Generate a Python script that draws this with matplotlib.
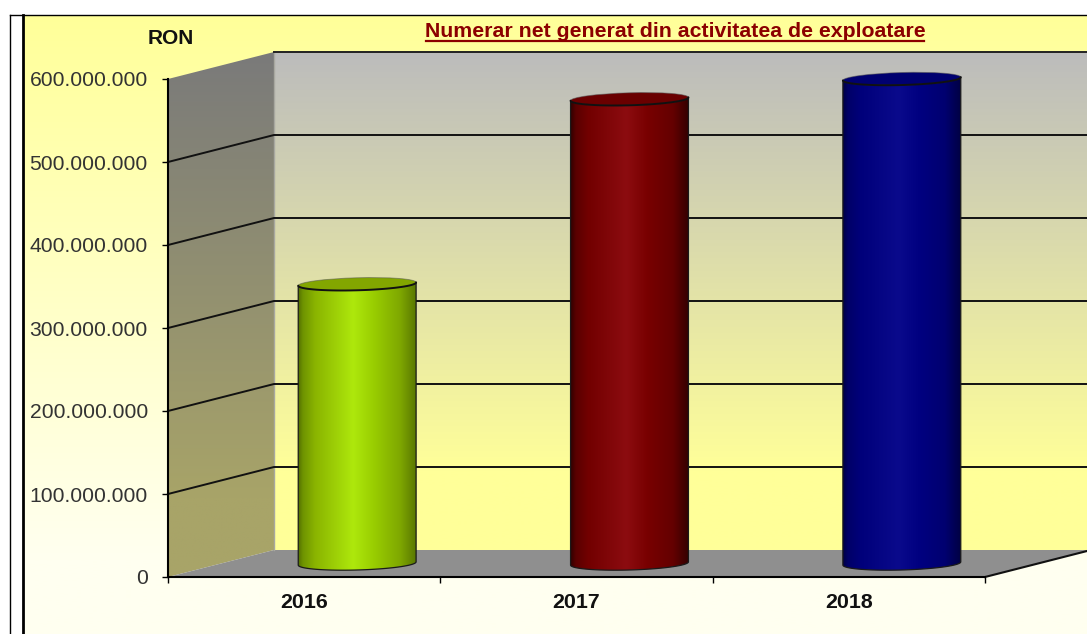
import numpy as np
from matplotlib import pyplot as plt
from matplotlib.colors import LinearSegmentedColormap
from matplotlib.patches import Ellipse, Polygon
from matplotlib.path import Path
from matplotlib.transforms import IdentityTransform

plt.rcParams['font.family'] = ['Liberation Sans', 'DejaVu Sans']

years = ['2016', '2017', '2018']
values = [336700000, 559600000, 584000000]
y_ticks = [0, 100000000, 200000000, 300000000, 400000000, 500000000, 600000000]
y_labels = ['0', '100.000.000', '200.000.000', '300.000.000', '400.000.000', '500.000.000', '600.000.000']
title = 'Numerar net generat din activitatea de exploatare'

W, H = 1087, 634
# depth of the fake 3d box, pixels
DX, DY = 106, 27
L, R, B, T = 168, 985, 577, 79

stops = [0, 0.05, 0.15, 0.47, 0.65, 0.86, 1]
shades = [
    ['#4e6a00', '#6f9400', '#8ab400', '#aee80c', '#98cc00', '#7fa800', '#587600'],
    ['#300000', '#5a0000', '#720000', '#8c0c10', '#780000', '#640000', '#300000'],
    ['#000040', '#000068', '#00007a', '#0a0a8c', '#000080', '#000070', '#000040'],
]
tops = ['#83a600', '#6a0000', '#000070']

fig = plt.figure(figsize=(W / 100, H / 100), dpi=100)

# page background and the walls, in pixel coordinates
bg = fig.add_axes([0, 0, 1, 1])
bg.axis('off')


def vgrad(c1, c2, stop, x0, x1, y0, y1, z, clip=None):
    cm = LinearSegmentedColormap.from_list('g', [(0, c1), (stop, c2), (1, c2)])
    im = bg.imshow(np.linspace(0, 1, 256)[:, None], cmap=cm, aspect='auto', zorder=z,
                   extent=(x0, x1, y1, y0), interpolation='bilinear')
    if clip is not None:
        im.set_clip_path(Polygon(clip, transform=bg.transData, closed=True))
    return im


bg.fill_between([0, W], 0, H, color='white', lw=0, zorder=0)
vgrad('#ffff99', '#fffff0', 0.88, 23, W, 15, H, 0.1)
vgrad('#bcbcbc', '#ffff99', 0.84, L + DX, W, T - DY, B - DY, 0.2)
side = [(L, T), (L + DX, T - DY), (L + DX, B - DY), (L, B)]
vgrad('#7a7a7a', '#a8a468', 0.85, L, L + DX, T - DY, B, 0.3, clip=side)
bg.add_patch(Polygon([(L, B), (R, B), (R + DX, B - DY), (L + DX, B - DY)], fc='#8f8f8f', ec='none', zorder=1))
bg.plot([L + DX, L + DX], [T - DY, B - DY], color='#a8a8a0', lw=1, zorder=1)
bg.plot([10, 10], [15, H], color='black', lw=1, zorder=2)
bg.plot([23, 23], [15, H], color='black', lw=2, zorder=2)
bg.plot([10, W], [15, 15], color='black', lw=1, zorder=2)
bg.set_xlim(0, W)
bg.set_ylim(H, 0)

ax = fig.add_axes([L / W, 1 - B / H, (R - L) / W, (B - T) / H])
ax.patch.set_alpha(0)
ax.set_xlim(0, 3)
ax.set_ylim(0, 600000000)
for s in ['top', 'right']:
    ax.spines[s].set_visible(False)
ax.spines['left'].set_linewidth(1.5)
ax.spines['bottom'].set_linewidth(1.5)
ax.set_xticks([0, 1, 2, 3])
ax.set_xticklabels([])
ax.set_xticks([0.5, 1.5, 2.5], minor=True)
ax.set_xticklabels(years, minor=True, fontsize=15.4, fontweight='bold', color='#111111')
ax.tick_params(axis='x', which='minor', length=0, pad=11.5)
ax.tick_params(axis='x', which='major', length=4.5, width=1)
ax.set_yticks(y_ticks)
ax.set_yticklabels(y_labels, fontsize=15.2, color='#333333')
ax.tick_params(axis='y', length=4, width=1, pad=10.5)

# gridlines on the back and side walls
for v in y_ticks[1:]:
    ypx = H - ax.transData.transform((0, v))[1]
    if v < 600000000:
        bg.plot([L, L + DX, W], [ypx, ypx - DY, ypx - DY], color='#111111', lw=1.4, zorder=3)
    else:
        bg.plot([L + DX, W], [ypx - DY, ypx - DY], color='#222222', lw=1.4, zorder=3)
bg.plot([R, W], [B, B - (W - R) * DY / DX], color='#111111', lw=1.5, zorder=3)

# cylinders sit half way into the box
to_px = ax.transData.transform
bar_w = 0.433
ell_h = 12.5
tilt = 1.6
a = np.radians(tilt)
half = to_px((bar_w / 2, 0))[0] - to_px((0, 0))[0]


def arc(cx, cy, hh, t):
    ex = half * np.cos(t)
    ey = hh * np.sin(t)
    return np.c_[cx + ex * np.cos(a) - ey * np.sin(a), cy + ex * np.sin(a) + ey * np.cos(a)]


front = np.linspace(np.pi, 2 * np.pi, 40)
for i, (val, cols, top) in enumerate(zip(values, shades, tops)):
    x = i + 0.5
    cx0, by = to_px((x, 0)) + np.array([DX / 2, DY / 2])
    cx1, ty = to_px((x, val)) + np.array([DX / 2, DY / 2])
    low = arc(cx0, by, 6.5, front)
    upper = arc(cx1, ty, ell_h / 2, front)
    verts = np.vstack([upper[:1], low, upper[-1:], upper[:1]])
    ax.add_patch(Polygon(verts, closed=True, transform=IdentityTransform(), fc='none',
                         ec='#1a1a1a', lw=0.9, zorder=4, clip_on=False))
    cm = LinearSegmentedColormap.from_list('c%d' % i, list(zip(stops, cols)))
    im = ax.imshow(np.linspace(0, 1, 256)[None, :], cmap=cm, aspect='auto',
                   extent=(cx0 - half - 1, cx0 + half + 1, by - 12, ty + 12),
                   transform=IdentityTransform(), zorder=3.5, interpolation='bilinear')
    im.set_clip_path(Path(verts), IdentityTransform())
    ax.add_patch(Ellipse((cx1, ty), 2 * half, ell_h, angle=tilt, fc=top, ec='#55555588', lw=0.7,
                         transform=IdentityTransform(), zorder=5, clip_on=False))
    ax.plot(upper[:, 0], upper[:, 1], color='#111111', lw=1.4, transform=IdentityTransform(),
            zorder=6, clip_on=False, solid_capstyle='round')
ax.set_xlim(0, 3)
ax.set_ylim(0, 600000000)

# title and unit label, figure pixel positions
fig.text(675 / W, 1 - 37 / H, title, ha='center', va='baseline', fontsize=15.3, fontweight='bold', color='#8b0000')
fig.add_artist(plt.Line2D([426 / W, 924 / W], [1 - 41 / H, 1 - 41 / H], color='#8b0000', lw=1.6))
fig.text(171 / W, 1 - 38 / H, 'RON', ha='center', va='center', fontsize=15, fontweight='bold', color='#111111')

fig.savefig('out.png', dpi=100)
